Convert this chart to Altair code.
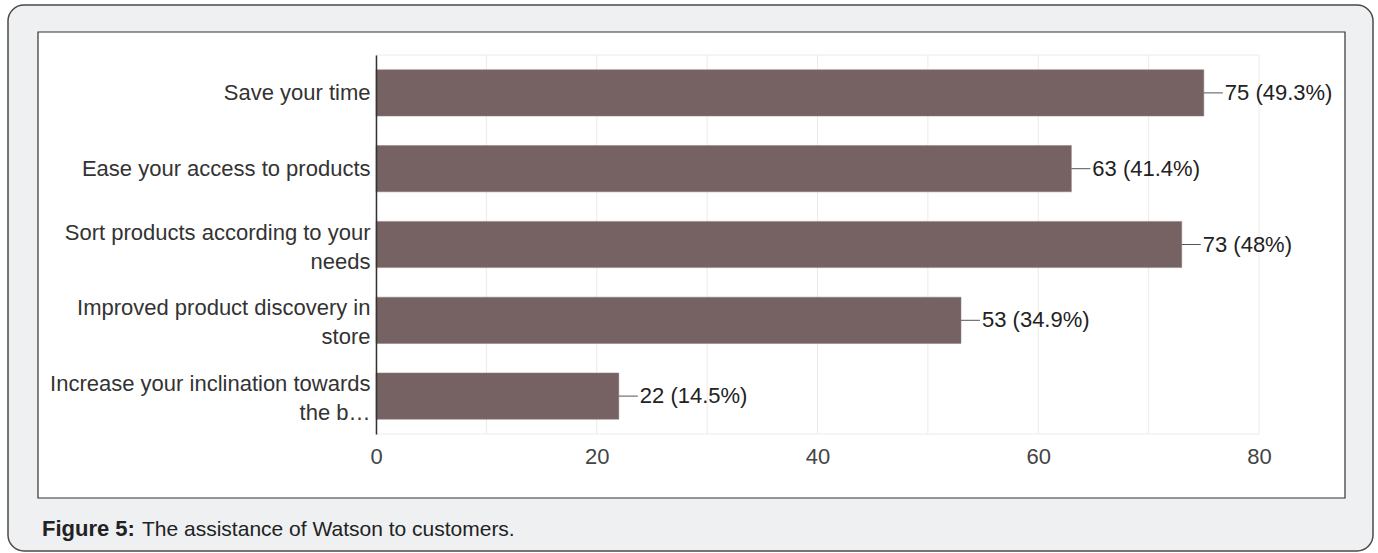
import altair as alt
import pandas as pd

# ---- data ----
categories = [
    "Save your time",
    "Ease your access to products",
    "Sort products according to your|needs",
    "Improved product discovery in|store",
    "Increase your inclination towards|the b\u2026",
]
counts = [75, 63, 73, 53, 22]
percents = ["49.3", "41.4", "48", "34.9", "14.5"]
grid_values = [0, 10, 20, 30, 40, 50, 60, 70, 80]
tick_labels = [0, 20, 40, 60, 80]
caption_bold = "Figure 5:"
caption_text = "The assistance of Watson to customers."

df = pd.DataFrame({
    "cat": categories,
    "count": counts,
    "label": [f"{c} ({p}%)" for c, p in zip(counts, percents)],
})
grid_df = pd.DataFrame({"count": grid_values})
one = pd.DataFrame({"k": [0]})

W, H = 883, 379
FONT = "Liberation Sans"
BAR = "#766262"

xscale = alt.Scale(domain=[0, 80], nice=False)
yscale = alt.Scale(paddingInner=0.39, paddingOuter=0.195)

# frames
outer = alt.Chart(one).mark_rect(
    fill="#eff0f2", stroke="#4a4a4a", strokeWidth=1.5, cornerRadius=16
).encode(x=alt.value(8 - 376), x2=alt.value(1373 - 376),
         y=alt.value(5 - 55), y2=alt.value(551 - 55))

inner = alt.Chart(one).mark_rect(
    fill="white", stroke="#333333", strokeWidth=1.2
).encode(x=alt.value(38 - 376), x2=alt.value(1345 - 376),
         y=alt.value(32 - 55), y2=alt.value(498 - 55))

grid = alt.Chart(grid_df).mark_rule(color="#ebebeb", strokeWidth=1).encode(
    x=alt.X("count:Q", scale=xscale),
    y=alt.value(0), y2=alt.value(H),
)
htop = alt.Chart(one).mark_rule(color="#ebebeb", strokeWidth=1).encode(
    x=alt.value(0), x2=alt.value(W), y=alt.value(0))
hbot = alt.Chart(one).mark_rule(color="#ebebeb", strokeWidth=1).encode(
    x=alt.value(0), x2=alt.value(W), y=alt.value(H))

bars = alt.Chart(df).mark_bar(color=BAR, stroke="#8a7a7a", strokeWidth=0.5).encode(
    x=alt.X("count:Q", scale=xscale,
            axis=alt.Axis(values=tick_labels, title=None, grid=False, ticks=False,
                          domain=False, labelFont=FONT, labelFontSize=22,
                          labelColor="#444444", labelPadding=12, labelFlush=False,
                          zindex=1)),
    y=alt.Y("cat:N", sort=categories, scale=yscale,
            axis=alt.Axis(title=None, ticks=False, grid=False, domainColor="#333333",
                          domainWidth=1.5, labelFont=FONT, labelFontSize=22,
                          labelColor="#333333", labelPadding=6, labelLimit=400,
                          labelLineHeight=29,
                          labelOffset={"condition": {"test": "indexof(datum.label, '|') >= 0",
                                                     "value": -12},
                                       "value": 0},
                          labelExpr="split(datum.label, '|')", zindex=1)),
)

connectors = alt.Chart(df).mark_rule(color="#555555", strokeWidth=1, x2Offset=19).encode(
    x=alt.X("count:Q", scale=xscale),
    x2="count:Q",
    y=alt.Y("cat:N", sort=categories, scale=yscale),
)

texts = alt.Chart(df).mark_text(
    align="left", baseline="middle", dx=21, font=FONT, fontSize=22, color="#222222"
).encode(
    x=alt.X("count:Q", scale=xscale),
    y=alt.Y("cat:N", sort=categories, scale=yscale),
    text="label:N",
)

cap1 = alt.Chart(one).mark_text(
    align="left", baseline="alphabetic", font=FONT, fontSize=22, fontWeight="bold",
    color="#222222"
).encode(x=alt.value(42 - 376), y=alt.value(536 - 55), text=alt.value(caption_bold))
cap2 = alt.Chart(one).mark_text(
    align="left", baseline="alphabetic", font=FONT, fontSize=21, color="#222222"
).encode(x=alt.value(142 - 376), y=alt.value(536 - 55), text=alt.value(caption_text))

chart = alt.layer(outer, inner, grid, htop, hbot, bars, connectors, texts, cap1, cap2).properties(
    width=W, height=H,
    autosize=alt.AutoSizeParams(type="none"),
    padding={"left": 376, "top": 55, "right": 1378 - 376 - W, "bottom": 553 - 55 - H},
    background="white",
).configure_view(stroke=None)

chart.save("out.html", embed_options={"renderer": "svg", "actions": False})
